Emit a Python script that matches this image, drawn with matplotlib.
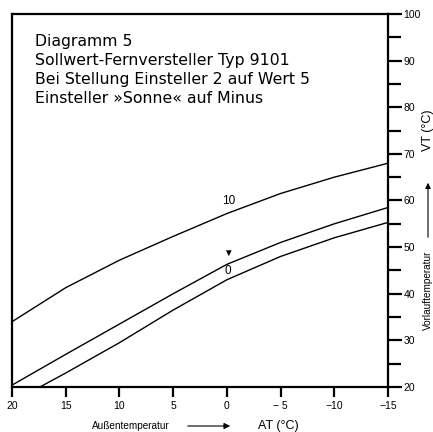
import matplotlib
matplotlib.use("Agg")
import matplotlib.pyplot as plt

plt.rcParams['font.family'] = ['Liberation Sans', 'DejaVu Sans']

# Outside temperature AT (deg C) and supply temperature VT (deg C)
at = [20, 15, 10, 5, 0, -5, -10, -15]
vt_10 = [34, 41.3, 47.2, 52.3, 57.2, 61.5, 65, 68]
vt_mid = [20.4, 27, 33.5, 40, 46.3, 51, 55, 58.5]
at_0 = [17.4, 15, 10, 5, 0, -5, -10, -15]
vt_0 = [20, 23, 29.5, 36.5, 43, 48, 52, 55.3]

xticks = [20, 15, 10, 5, 0, -5, -10, -15]
xlabels = ["20", "15", "10", "5", "0", "\u2212 5", "\u221210", "\u221215"]
yticks = [20, 30, 40, 50, 60, 70, 80, 90, 100]

title_lines = ["Diagramm 5",
               "Sollwert-Fernversteller Typ 9101",
               "Bei Stellung Einsteller 2 auf Wert 5",
               "Einsteller \u00bbSonne\u00ab auf Minus"]

fig = plt.figure(figsize=(4.33, 4.32), dpi=100)
ax = fig.add_axes([12/433, 1 - 387/432, 376/433, 373/432])

ax.plot(at, vt_10, color='black', lw=1.0)
ax.plot(at, vt_mid, color='black', lw=1.0)
ax.plot(at_0, vt_0, color='black', lw=1.0)

ax.set_xlim(20, -15)
ax.set_ylim(20, 100)

for s in ax.spines.values():
    s.set_linewidth(1.6)

ax.set_xticks(xticks)
ax.set_xticklabels(xlabels, fontsize=7.5)
ax.tick_params(axis='x', direction='out', length=7, width=1.6, pad=3)

ax.yaxis.tick_right()
ax.set_yticks(yticks)
ax.set_yticks(range(25, 100, 10), minor=True)
ax.tick_params(axis='y', which='major', direction='out', length=10, width=1.6,
               pad=1, labelsize=7.5)
ax.tick_params(axis='y', which='minor', direction='out', length=9, width=1.6)

# curve labels
ax.text(-0.2, 58.6, "10", fontsize=8.5, ha='center', va='bottom')
ax.text(-0.1, 47.6, "\u25bc", fontsize=7, ha='center', va='bottom')
ax.text(-0.1, 43.6, "0", fontsize=8.5, ha='center', va='bottom')

# title block
for i, line in enumerate(title_lines):
    fig.text(35/433, 1 - (34 + 19*i)/432, line, fontsize=11.3, va='top', ha='left',
             family='DejaVu Sans')

# bottom axis label
fig.text(131/433, 1 - 426/432, "Au\u00dfentemperatur", fontsize=7.2, ha='center', va='center')
fig.patches.append(matplotlib.patches.FancyArrowPatch(
    (185/433, 1 - 426/432), (233/433, 1 - 426/432), transform=fig.transFigure,
    arrowstyle='-|>', mutation_scale=9, lw=0.8, color='black'))
fig.text(278/433, 1 - 426/432, "AT (\u00b0C)", fontsize=9, ha='center', va='center')

# right axis label
fig.text(428/433, 1 - 130/432, "VT (\u00b0C)", fontsize=9, rotation=90, ha='center', va='center')
fig.patches.append(matplotlib.patches.FancyArrowPatch(
    (428/433, 1 - 240/432), (428/433, 1 - 180/432), transform=fig.transFigure,
    arrowstyle='-|>', mutation_scale=8, lw=0.8, color='black'))
fig.text(428/433, 1 - 290/432, "Vorlauftemperatur", fontsize=7.2, rotation=90, ha='center', va='center')

fig.savefig("out.png", dpi=100)
